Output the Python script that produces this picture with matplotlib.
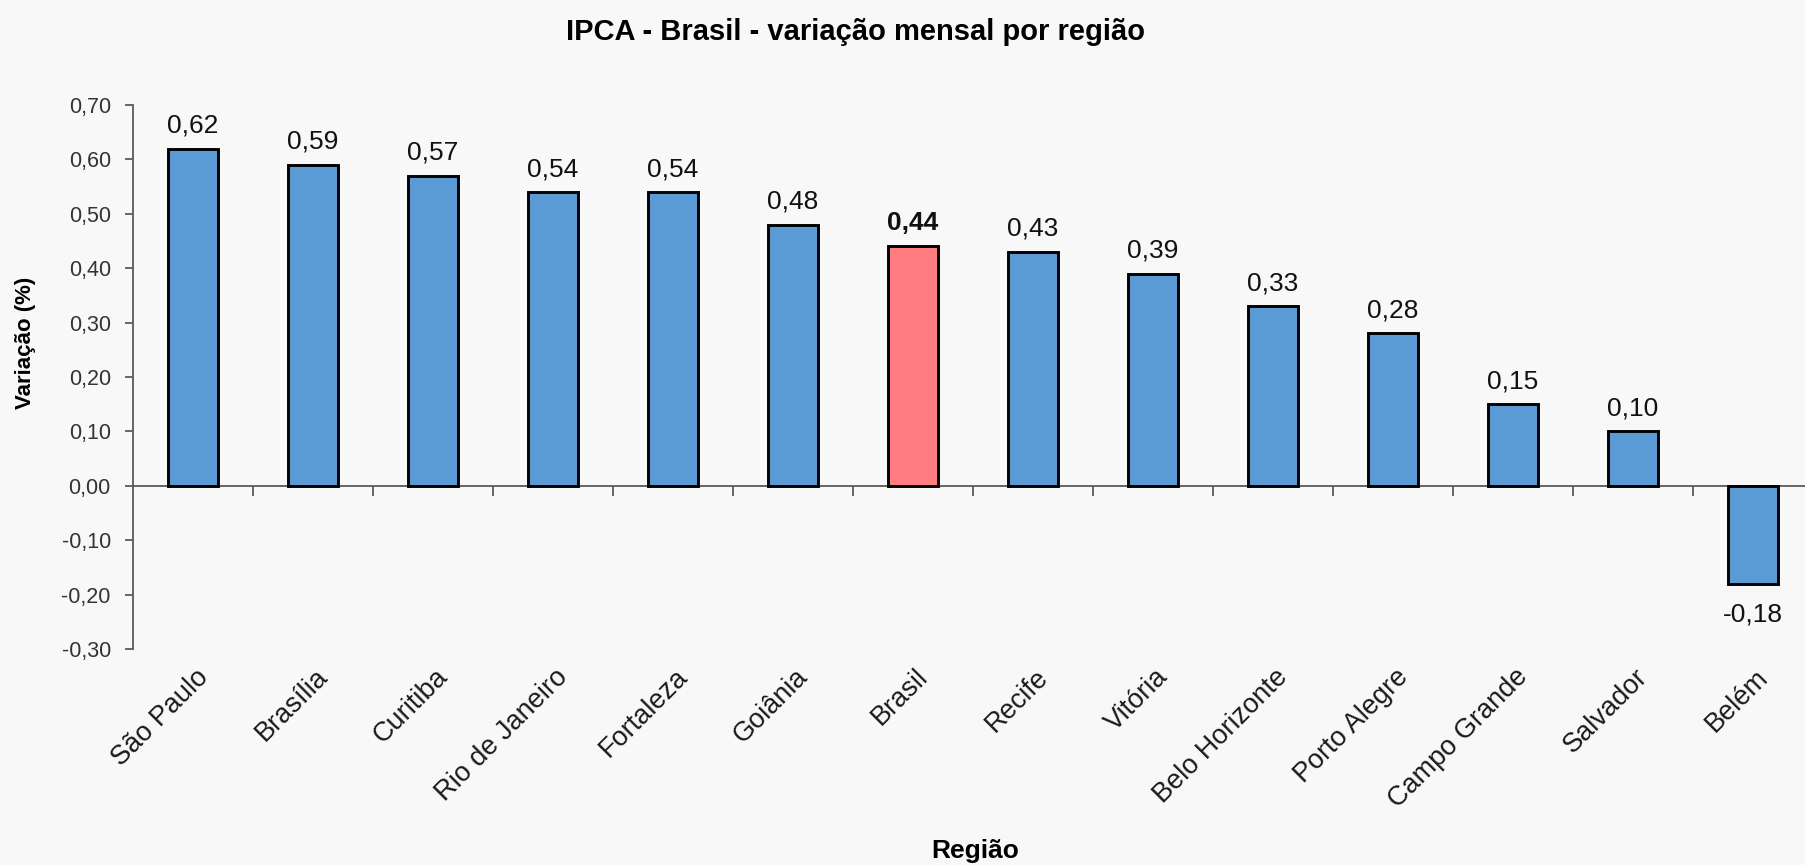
import matplotlib
matplotlib.use("Agg")
import matplotlib.pyplot as plt

plt.rcParams["font.family"] = ["Liberation Sans", "DejaVu Sans"]

regions = ["São Paulo", "Brasília", "Curitiba", "Rio de Janeiro", "Fortaleza",
           "Goiânia", "Brasil", "Recife", "Vitória", "Belo Horizonte",
           "Porto Alegre", "Campo Grande", "Salvador", "Belém"]
values = [0.62, 0.59, 0.57, 0.54, 0.54, 0.48, 0.44, 0.43, 0.39, 0.33,
          0.28, 0.15, 0.10, -0.18]
highlight = "Brasil"
y_ticks = [-0.30, -0.20, -0.10, 0.00, 0.10, 0.20, 0.30, 0.40, 0.50, 0.60, 0.70]

W, H = 1805, 865
bg = "#f8f8f8"
axis_gray = "#5a5a5a"

fig = plt.figure(figsize=(W / 100, H / 100), dpi=100, facecolor=bg)
# plot area: 14 categories of 120 px starting at x=133, y from 105 (0.70) to 649 (-0.30)
ax = fig.add_axes([133 / W, (H - 649) / H, 14 * 120 / W, (649 - 105) / H])
ax.set_facecolor(bg)

x = list(range(len(regions)))
colors = ["#ff7c80" if r == highlight else "#5b9bd5" for r in regions]
ax.bar(x, values, width=0.41, color=colors, edgecolor="black", linewidth=2.1, zorder=3)

ax.set_xlim(-0.5, len(regions) - 0.5)
ax.set_ylim(y_ticks[0], y_ticks[-1])

# axes look
for s in ["top", "right"]:
    ax.spines[s].set_visible(False)
ax.spines["left"].set_color(axis_gray)
ax.spines["left"].set_linewidth(1.3)
ax.spines["bottom"].set_position(("data", 0))
ax.spines["bottom"].set_color(axis_gray)
ax.spines["bottom"].set_linewidth(1.3)

ax.set_yticks(y_ticks)
ax.set_yticklabels([f"{v:.2f}".replace(".", ",") for v in y_ticks])
ax.tick_params(axis="y", direction="out", length=6, width=1.3, color=axis_gray,
               labelsize=15.5, labelcolor="#333333", pad=10)

ax.set_xticks([i + 0.5 for i in x[:-1]])
ax.set_xticklabels([])
ax.tick_params(axis="x", direction="out", length=7, width=1.3, color=axis_gray)

# category labels below the plot area
for i, name in enumerate(regions):
    ax.annotate(name, xy=(i, 0), xycoords=ax.get_xaxis_transform(),
                xytext=(2, -15), textcoords="offset pixels",
                rotation=45, rotation_mode="anchor", ha="right", va="top",
                fontsize=19.5, color="#1a1a1a", annotation_clip=False)

# value labels
for i, (name, v) in enumerate(zip(regions, values)):
    txt = f"{v:.2f}".replace(".", ",")
    weight = "bold" if name == highlight else "normal"
    if v >= 0:
        ax.annotate(txt, xy=(i, v), xytext=(0, 16), textcoords="offset pixels",
                    ha="center", va="baseline", fontsize=19, fontweight=weight,
                    color="#111111", annotation_clip=False)
    else:
        ax.annotate(txt, xy=(i, v), xytext=(0, -19), textcoords="offset pixels",
                    ha="center", va="top", fontsize=19, fontweight=weight,
                    color="#111111", annotation_clip=False)

fig.text(855 / W, 1 - 40 / H, "IPCA - Brasil - variação mensal por região",
         ha="center", va="baseline", fontsize=21, fontweight="bold")
fig.text(25 / W, 1 - 343 / H, "Variação (%)", rotation=90,
         ha="center", va="center", fontsize=16, fontweight="bold")
fig.text(975 / W, 1 - 858 / H, "Região", ha="center", va="baseline",
         fontsize=19, fontweight="bold")

fig.savefig("out.png", dpi=100, facecolor=bg)
